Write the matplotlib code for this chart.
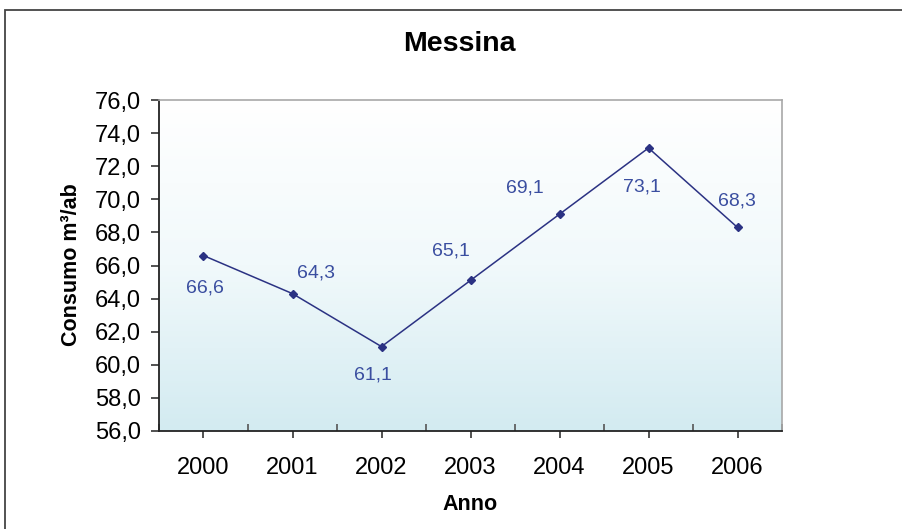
import matplotlib
matplotlib.use("Agg")
import matplotlib.pyplot as plt
import numpy as np
from matplotlib.colors import LinearSegmentedColormap
from matplotlib.patches import Rectangle
from matplotlib.ticker import FixedLocator, FuncFormatter

plt.rcParams['font.family'] = ['Liberation Sans', 'DejaVu Sans']

years = ["2000", "2001", "2002", "2003", "2004", "2005", "2006"]
consumo = [66.6, 64.3, 61.1, 65.1, 69.1, 73.1, 68.3]
yticks = [56, 58, 60, 62, 64, 66, 68, 70, 72, 74, 76]
title = "Messina"
xlabel = "Anno"
ylabel = "Consumo m³/ab"

# label offsets in pixels (dx, dy) relative to each point
label_offsets = [(1, -32), (23, 21), (-9, -28), (-20, 29), (-35, 26), (-7, -39), (-1, 26)]

fig = plt.figure(figsize=(9.03, 5.29), dpi=100)
ax = fig.add_axes([159/903, 1 - 431/529, (782-159)/903, (431-100)/529])

x = np.arange(len(years))
ax.set_xlim(-0.5, len(years) - 0.5)
ax.set_ylim(56, 76)

cmap = LinearSegmentedColormap.from_list("bg", ["#ffffff", "#f1f9fb", "#d3ebf1"])
grad = np.linspace(0, 1, 256).reshape(-1, 1)
ax.imshow(grad, extent=(-0.5, len(years) - 0.5, 56, 76), aspect='auto',
          cmap=cmap, origin='upper', zorder=0)

ax.plot(x, consumo, color="#2b3283", lw=1.1, marker="D", markersize=4,
        markerfacecolor="#2b3283", markeredgecolor="#2b3283", zorder=3)

for xi, v, (dx, dy) in zip(x, consumo, label_offsets):
    ax.annotate(f"{v:.1f}".replace(".", ","), (xi, v), xytext=(dx, dy),
                textcoords="offset pixels", ha="center", va="center",
                fontsize=14, color="#3a4ea0", zorder=4)

ax.set_xticks(x)
ax.set_xticklabels(years)
ax.xaxis.set_minor_locator(FixedLocator(np.arange(-0.5, len(years), 1.0)))
ax.tick_params(axis='x', which='major', direction='out', length=5, width=1.2,
               color="#333333", labelsize=17, pad=14)
ax.tick_params(axis='x', which='minor', direction='in', length=5, width=1.2,
               color="#555555")
ax.set_yticks(yticks)
ax.yaxis.set_major_formatter(FuncFormatter(lambda v, p: f"{v:.1f}".replace(".", ",")))
ax.tick_params(axis='y', which='major', direction='out', length=6, width=1.2,
               color="#333333", labelsize=17, pad=7)

for s in ['left', 'bottom']:
    ax.spines[s].set_color("#222222")
    ax.spines[s].set_linewidth(1.3)
for s in ['top', 'right']:
    ax.spines[s].set_color("#a8a8a8")
    ax.spines[s].set_linewidth(1.2)

fig.text(459.5/903, 1 - 44/529, title, ha="center", va="center",
         fontsize=20.5, fontweight="bold")
fig.text(470/903, 1 - 505/529, xlabel, ha="center", va="center",
         fontsize=15.5, fontweight="bold")
fig.text(72/903, 1 - 265/529, ylabel, ha="center", va="center",
         fontsize=15.5, fontweight="bold", rotation=90)

fig.patches.append(Rectangle((5/903, -0.1), 1.2, 1.1 - 10/529, transform=fig.transFigure,
                             fill=False, edgecolor="#444444", lw=1.3))

fig.savefig("out.png", dpi=100)
